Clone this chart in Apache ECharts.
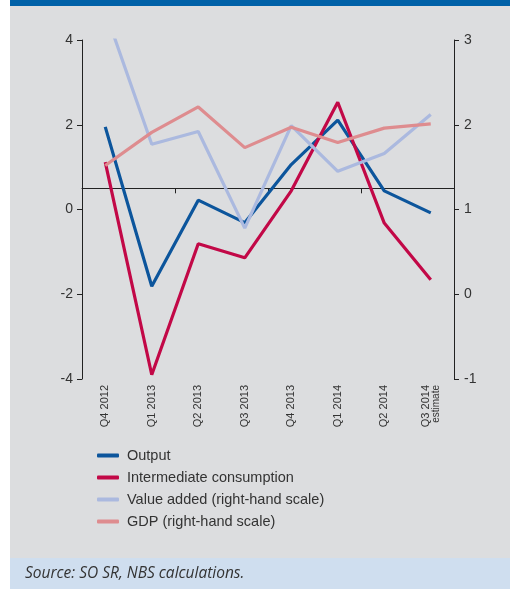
<!DOCTYPE html>
<html style="height: 100%">
<head>
<meta charset="utf-8">
<script src="https://cdn.jsdelivr.net/npm/echarts@6/dist/echarts.min.js"></script>
</head>
<body style="height: 100%; margin: 0">
<div id="container" style="width: 510px; height: 589px"></div>
<script type="text/javascript">
// categories (quarters)
var quarters = ['Q4 2012', 'Q1 2013', 'Q2 2013', 'Q3 2013', 'Q4 2013', 'Q1 2014', 'Q2 2014', 'Q3 2014'];
// left-hand scale
var output = [1.95, -1.81, 0.22, -0.31, 1.06, 2.11, 0.44, -0.08];
var intermediate = [1.12, -3.9, -0.81, -1.14, 0.44, 2.53, -0.32, -1.66];
// right-hand scale
var valueAdded = [3.34, 1.77, 1.92, 0.78, 1.99, 1.45, 1.66, 2.12];
var gdp = [1.52, 1.91, 2.21, 1.73, 1.97, 1.79, 1.96, 2.01];
var seriesNames = ['Output', 'Intermediate consumption', 'Value added (right-hand scale)', 'GDP (right-hand scale)'];

var dom = document.getElementById('container');
var myChart = echarts.init(dom);
var font = 'Liberation Sans, Arial, sans-serif';

var option = {
    backgroundColor: '#ffffff',
    animation: false,
    graphic: [
        // gray panel
        { type: 'rect', shape: { x: 10, y: 0, width: 500, height: 558 }, style: { fill: '#dcdddf' }, z: -10 },
        // title band (cropped)
        { type: 'rect', shape: { x: 10, y: 0, width: 500, height: 6 }, style: { fill: '#0061a8' }, z: -9 },
        // source band
        { type: 'rect', shape: { x: 10, y: 558, width: 500, height: 31 }, style: { fill: '#cfdeef' }, z: -9 },
        {
            type: 'text', left: 25, top: 566,
            style: { text: 'Source: SO SR, NBS calculations.', fill: '#333', font: 'italic 15.5px "Open Sans", Lato, sans-serif' }
        }
    ],
    grid: { left: 82, right: 56, top: 40, bottom: 210 },
    legend: {
        orient: 'vertical',
        left: 97,
        top: 448,
        padding: 0,
        itemWidth: 22,
        itemHeight: 4,
        itemGap: 7,
        icon: 'roundRect',
        data: seriesNames,
        textStyle: { color: '#333', fontSize: 14.5, fontFamily: font, padding: [0, 0, 0, 3] }
    },
    xAxis: [
        {
            type: 'category',
            data: quarters,
            boundaryGap: true,
            axisLine: { onZero: true, onZeroAxisIndex: 2, lineStyle: { color: '#222', width: 1 } },
            axisTick: { show: true, length: 5, lineStyle: { color: '#222' } },
            axisLabel: { show: false }
        },
        {
            type: 'category',
            data: quarters,
            boundaryGap: true,
            position: 'bottom',
            axisLine: { show: false },
            axisTick: { show: false },
            axisLabel: {
                rotate: 90,
                margin: 6,
                color: '#333',
                fontSize: 11,
                fontFamily: font,
                formatter: function (v, i) {
                    return i === quarters.length - 1 ? v + '\n{s|estimate}' : v;
                },
                rich: { s: { fontSize: 10, fontFamily: font, color: '#333' } }
            }
        }
    ],
    yAxis: [
        {
            type: 'value', position: 'left', min: -4, max: 4, interval: 2,
            axisLine: { show: true, lineStyle: { color: '#222' } },
            axisTick: { show: true, length: 5, lineStyle: { color: '#222' } },
            axisLabel: { color: '#333', fontSize: 14, fontFamily: font, margin: 9 },
            splitLine: { show: false }
        },
        {
            type: 'value', position: 'right', min: -1, max: 3, interval: 1,
            axisLine: { show: true, lineStyle: { color: '#222' } },
            axisTick: { show: true, length: 5, lineStyle: { color: '#222' } },
            axisLabel: { color: '#333', fontSize: 14, fontFamily: font, margin: 10 },
            splitLine: { show: false }
        },
        // hidden helper axis: its zero is where the horizontal line sits (0.5 on the left scale)
        { type: 'value', show: false, min: -4.5, max: 3.5, splitLine: { show: false } }
    ],
    series: [
        {
            name: seriesNames[0], type: 'line', data: output, yAxisIndex: 0,
            symbol: 'none', itemStyle: { color: '#0c559c' }, lineStyle: { width: 3.2, color: '#0c559c' }
        },
        {
            name: seriesNames[1], type: 'line', data: intermediate, yAxisIndex: 0,
            symbol: 'none', itemStyle: { color: '#c20847' }, lineStyle: { width: 3.2, color: '#c20847' }
        },
        {
            name: seriesNames[2], type: 'line', data: valueAdded, yAxisIndex: 1,
            symbol: 'none', itemStyle: { color: '#abb9df' }, lineStyle: { width: 3.2, color: '#abb9df' }
        },
        {
            name: seriesNames[3], type: 'line', data: gdp, yAxisIndex: 1,
            symbol: 'none', itemStyle: { color: '#de8c8f' }, lineStyle: { width: 3.2, color: '#de8c8f' }
        }
    ]
};
myChart.setOption(option);
</script>
</body>
</html>
